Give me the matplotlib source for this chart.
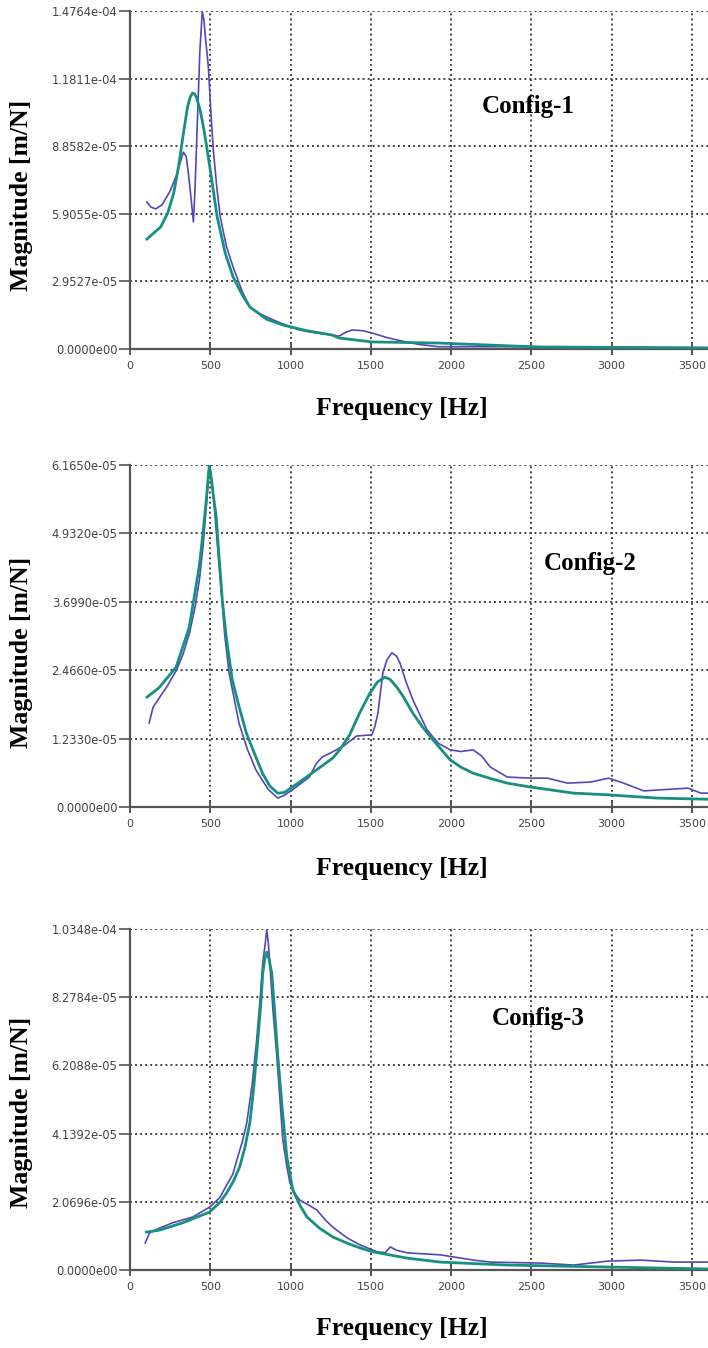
import matplotlib
matplotlib.use("Agg")
import matplotlib.pyplot as plt

W, H = 708, 1348

# ---- Config-1 ----
c1_meas_f = [105, 130, 160, 200, 250, 290, 315, 333, 350, 365, 380, 395, 405, 420, 435, 450, 460,
             470, 488, 505, 519, 540, 562, 600, 642, 700, 747, 800,
             850, 950, 1056, 1160, 1260, 1302, 1340, 1383, 1450, 1506, 1600, 1716, 1800, 1920,
             2100, 2500, 3000, 3600]
c1_meas_m = [6.42e-5, 6.2e-5, 6.12e-5, 6.3e-5, 6.9e-5, 7.6e-5, 8.2e-5, 8.6e-5, 8.4e-5, 7.6e-5,
             6.6e-5, 5.55e-5, 7.0e-5, 1.0e-4, 1.30e-4, 1.472e-4, 1.44e-4,
             1.36e-4, 1.232e-4, 1.02e-4, 8.69e-5, 7.1e-5, 5.77e-5, 4.5e-5, 3.58e-5, 2.5e-5,
             1.83e-5, 1.58e-5, 1.40e-5, 1.1e-5, 8.3e-6, 7.0e-6, 6.1e-6, 5.6e-6, 7.2e-6, 8.3e-6,
             8.0e-6, 7.0e-6, 5.0e-6, 3.1e-6, 2.0e-6, 1.0e-6, 1.0e-6, 1.0e-6, 8e-7, 6e-7]
c1_fit_f = [105, 191, 235, 272, 302, 333, 358, 375, 389, 400, 414, 438, 460, 481, 512, 543, 593,
            642, 700, 747, 851, 951, 1100, 1260, 1302, 1506, 1920, 2537, 3000, 3600]
c1_fit_m = [4.80e-5, 5.33e-5, 5.94e-5, 6.8e-5, 7.95e-5, 9.43e-5, 1.057e-4, 1.10e-4, 1.118e-4,
            1.115e-4, 1.10e-4, 1.04e-4, 9.6e-5, 8.69e-5, 7.25e-5, 5.77e-5, 4.19e-5,
            3.15e-5, 2.35e-5, 1.83e-5, 1.3e-5, 1.05e-5, 8.0e-6, 6.1e-6, 4.8e-6, 3.1e-6, 2.6e-6,
            9e-7, 7e-7, 4e-7]
c1_ticks = [0.0, 2.9527e-05, 5.9055e-05, 8.8582e-05, 1.1811e-04, 1.4764e-04]
c1_labels = ["0.0000e00", "2.9527e-05", "5.9055e-05", "8.8582e-05", "1.1811e-04", "1.4764e-04"]

# ---- Config-2 ----
c2_meas_f = [119, 144, 190, 228, 290, 330, 371, 405, 432, 455, 475, 494, 508, 525, 545, 568,
             590, 617, 679, 730, 784, 860, 920, 960, 1012, 1117, 1160, 1197, 1259, 1330, 1412,
             1506, 1525, 1544, 1575, 1600, 1631, 1660, 1681, 1720, 1762, 1850, 1920, 1994,
             2060, 2137, 2190, 2244, 2350, 2494, 2600, 2725, 2869, 2981, 3075, 3200, 3306,
             3475, 3556, 3600]
c2_meas_m = [1.514e-5, 1.80e-5, 2.0e-5, 2.16e-5, 2.47e-5, 2.75e-5, 3.14e-5, 3.6e-5, 4.09e-5,
             4.7e-5, 5.41e-5, 6.13e-5, 5.9e-5, 5.41e-5, 4.7e-5, 3.91e-5,
             3.1e-5, 2.42e-5, 1.51e-5, 1.05e-5, 6.7e-6, 3.2e-6, 1.6e-6, 2.1e-6, 3.1e-6, 5.4e-6,
             7.8e-6, 9.0e-6, 9.9e-6, 1.1e-5, 1.28e-5, 1.30e-5, 1.45e-5, 1.69e-5, 2.42e-5,
             2.65e-5, 2.78e-5, 2.72e-5, 2.60e-5, 2.25e-5, 1.93e-5, 1.39e-5, 1.15e-5, 1.03e-5,
             1.0e-5, 1.03e-5, 9.2e-6, 7.2e-6, 5.4e-6, 5.2e-6, 5.2e-6, 4.3e-6, 4.5e-6, 5.2e-6,
             4.3e-6, 2.9e-6, 3.1e-6, 3.4e-6, 2.5e-6, 2.5e-6]
c2_fit_f = [106, 181, 287, 369, 431, 455, 475, 487, 494, 503, 520, 537, 555, 575, 600, 637, 680,
            725, 780, 825, 870, 920, 960, 1012, 1162, 1262, 1306, 1368, 1431, 1494, 1540, 1587,
            1620, 1662, 1700, 1762, 1820, 1887, 1994, 2060, 2137, 2250, 2350, 2494, 2762,
            2975, 3287, 3600]
c2_fit_m = [1.98e-5, 2.15e-5, 2.52e-5, 3.24e-5, 4.33e-5, 4.95e-5, 5.53e-5, 5.95e-5, 6.165e-5,
            6.0e-5, 5.6e-5, 5.23e-5, 4.5e-5, 3.73e-5, 3.05e-5, 2.29e-5, 1.8e-5,
            1.33e-5, 9.3e-6, 6.1e-6, 3.8e-6, 2.5e-6, 2.6e-6, 3.6e-6, 6.7e-6, 8.8e-6,
            1.03e-5, 1.3e-5, 1.7e-5, 2.05e-5, 2.25e-5, 2.34e-5, 2.3e-5, 2.16e-5, 2.0e-5, 1.69e-5,
            1.45e-5, 1.21e-5, 8.5e-6, 7.2e-6, 6.1e-6, 5.1e-6, 4.3e-6, 3.6e-6, 2.5e-6, 2.2e-6,
            1.6e-6, 1.4e-6]
c2_ticks = [0.0, 1.2330e-05, 2.4660e-05, 3.6990e-05, 4.9320e-05, 6.1650e-05]
c2_labels = ["0.0000e00", "1.2330e-05", "2.4660e-05", "3.6990e-05", "4.9320e-05", "6.1650e-05"]

# ---- Config-3 ----
c3_meas_f = [95, 121, 183, 264, 392, 496, 560, 602, 640, 671, 700, 727, 760, 789, 810, 827, 842,
             852, 862, 871, 890, 915, 935, 952, 975, 996, 1030, 1058, 1110, 1164, 1220, 1264,
             1350, 1433, 1540, 1590, 1621, 1660, 1727, 1933, 2140, 2246, 2558, 2764, 2977,
             3183, 3389, 3600]
c3_meas_m = [8.2e-6, 1.12e-5, 1.27e-5, 1.43e-5, 1.61e-5, 1.91e-5, 2.2e-5, 2.58e-5, 2.9e-5,
             3.43e-5, 3.9e-5, 4.46e-5, 5.6e-5, 6.98e-5, 8.2e-5, 9.32e-5, 9.9e-5,
             1.032e-4, 9.9e-5, 9.32e-5, 7.9e-5, 6.46e-5, 5.1e-5, 3.94e-5, 3.2e-5, 2.64e-5,
             2.3e-5, 2.12e-5, 1.98e-5, 1.82e-5, 1.5e-5, 1.30e-5, 9.8e-6, 7.6e-6, 5.5e-6,
             5.3e-6, 7.0e-6, 6.0e-6, 5.2e-6, 4.6e-6, 3.0e-6, 2.4e-6, 2.1e-6, 1.5e-6, 2.7e-6,
             3.0e-6, 2.4e-6, 2.4e-6]
c3_fit_f = [102, 183, 327, 496, 560, 602, 645, 683, 715, 746, 772, 796, 815, 827, 840, 852, 865,
            883, 900, 921, 950, 977, 1014, 1060, 1102, 1180, 1264, 1350, 1433, 1514, 1727,
            1933, 2350, 2977, 3600]
c3_fit_m = [1.15e-5, 1.21e-5, 1.43e-5, 1.76e-5, 2.05e-5, 2.34e-5, 2.7e-5, 3.13e-5, 3.7e-5,
            4.46e-5, 5.6e-5, 6.98e-5, 8.1e-5, 9.01e-5, 9.45e-5, 9.65e-5, 9.45e-5,
            9.01e-5, 7.9e-5, 6.46e-5, 4.8e-5, 3.43e-5, 2.43e-5, 1.95e-5, 1.61e-5, 1.27e-5,
            1.0e-5, 8.2e-6, 6.7e-6, 5.5e-6, 3.6e-6, 2.4e-6, 1.5e-6, 9e-7, 3e-7]
c3_ticks = [0.0, 2.0696e-05, 4.1392e-05, 6.2088e-05, 8.2784e-05, 1.0348e-04]
c3_labels = ["0.0000e00", "2.0696e-05", "4.1392e-05", "6.2088e-05", "8.2784e-05", "1.0348e-04"]

x_ticks = [0, 500, 1000, 1500, 2000, 2500, 3000, 3500]
names = ["Config-1", "Config-2", "Config-3"]

MEAS_COLOR = "#5447b8"
FIT_COLOR = "#17907f"
SERIF = ["Liberation Serif", "DejaVu Serif"]

# pixel layout: (top, bottom) of each axes, name position, label centres
panels = [
    dict(top=11, bottom=349, name_xy=(528, 107), ylab_y=195, xlab_y=408),
    dict(top=465, bottom=807, name_xy=(590, 563), ylab_y=652, xlab_y=868),
    dict(top=929, bottom=1270, name_xy=(538, 1018), ylab_y=1112, xlab_y=1328),
]
data = [
    (c1_meas_f, c1_meas_m, c1_fit_f, c1_fit_m, c1_ticks, c1_labels),
    (c2_meas_f, c2_meas_m, c2_fit_f, c2_fit_m, c2_ticks, c2_labels),
    (c3_meas_f, c3_meas_m, c3_fit_f, c3_fit_m, c3_ticks, c3_labels),
]

fig = plt.figure(figsize=(W / 100, H / 100), dpi=100)
left = 130

for p, (mf, mm, ff, fm, yt, yl), name in zip(panels, data, names):
    ax = fig.add_axes([left / W, 1 - p["bottom"] / H, (W - left) / W,
                       (p["bottom"] - p["top"]) / H])
    ax.plot(mf, mm, color=MEAS_COLOR, lw=1.2, zorder=3)
    ax.plot(ff, fm, color=FIT_COLOR, lw=2.0, zorder=4)
    ax.set_xlim(0, 3600)
    ax.set_ylim(0, yt[-1])
    ax.set_xticks(x_ticks)
    ax.set_xticklabels([str(t) for t in x_ticks])
    ax.set_yticks(yt)
    ax.set_yticklabels(yl)
    ax.grid(True, linestyle=(0, (1.0, 1.6)), color="#444444", linewidth=1.4)
    ax.set_axisbelow(True)
    for s in ["top", "right"]:
        ax.spines[s].set_visible(False)
    for s in ["left", "bottom"]:
        ax.spines[s].set_color("#555555")
        ax.spines[s].set_linewidth(1.6)
    ax.tick_params(axis="y", direction="out", length=8, width=1.2, color="#555555",
                   labelsize=8.3, labelcolor="#444444", pad=1)
    ax.tick_params(axis="x", direction="inout", length=9, width=1.4, color="#555555",
                   labelsize=8, labelcolor="#444444", pad=4)

    fig.text(p["name_xy"][0] / W, 1 - p["name_xy"][1] / H, name, ha="center", va="center",
             fontsize=18, fontweight="bold", family=SERIF)
    fig.text(402 / W, 1 - p["xlab_y"] / H, "Frequency [Hz]", ha="center", va="center",
             fontsize=18.5, fontweight="bold", family=SERIF)
    fig.text(22 / W, 1 - p["ylab_y"] / H, "Magnitude [m/N]", ha="center", va="center",
             rotation=90, fontsize=18.5, fontweight="bold", family=SERIF)

fig.savefig("out.png", dpi=100)
